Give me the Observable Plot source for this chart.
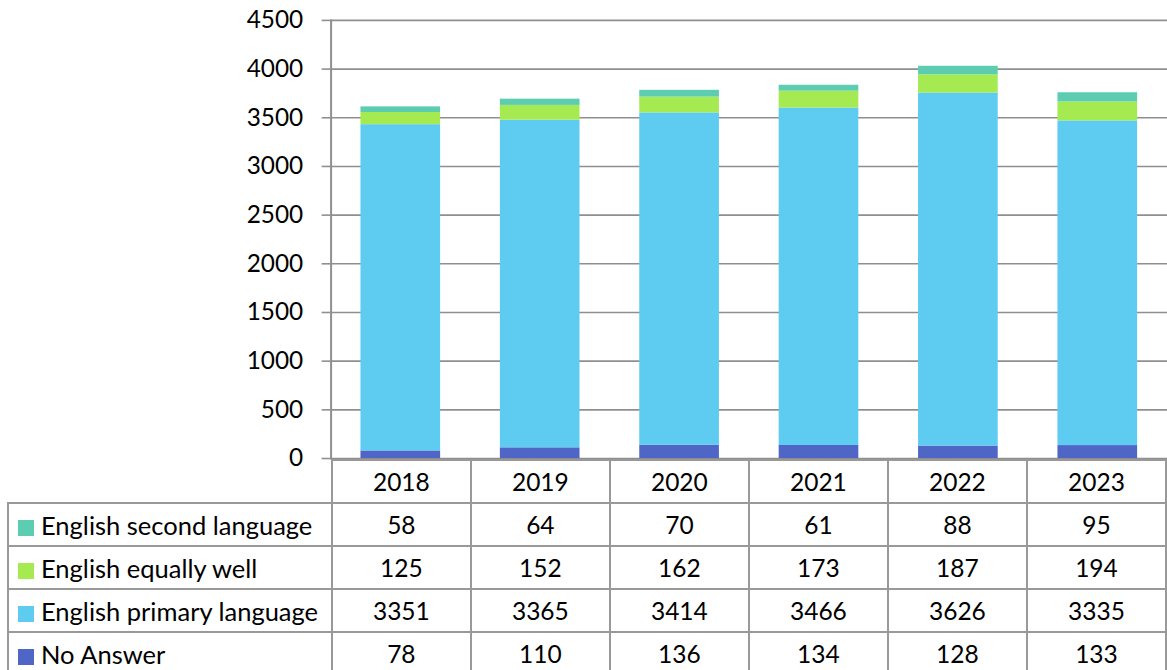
<!DOCTYPE html>
<html>
<head>
<meta charset="utf-8">
<script src="https://cdn.jsdelivr.net/npm/d3@7"></script>
<script src="https://cdn.jsdelivr.net/npm/@observablehq/plot@0.6"></script>
<style>
  html, body { margin: 0; padding: 0; background: #fff; overflow: hidden; width: 1167px; height: 670px; }
  #wrap { position: relative; width: 1167px; height: 670px; font-family: Lato, "Open Sans", sans-serif; }
  #chart { position: absolute; left: 0; top: 0; }
  #tbl { position: absolute; left: 7px; top: 459px; border-collapse: collapse; table-layout: fixed; font-size: 24.5px; color: #000; }
  #tbl td { border: 2px solid #999; height: 41px; padding: 0; text-align: center; vertical-align: middle; white-space: nowrap; overflow: hidden; }
  #tbl td.lab { text-align: left; padding-left: 9px; font-size: 25.5px; }
  #tbl td.blank { border-left: none; border-top: none; }
  .sw { display: inline-block; width: 16px; height: 16px; margin-right: 7px; vertical-align: -1px; }
</style>
</head>
<body>
<div id="wrap">
  <div id="chart"></div>
  <table id="tbl"></table>
</div>
<script>
const years = ["2018", "2019", "2020", "2021", "2022", "2023"];
const seriesNames = ["No Answer", "English primary language", "English equally well", "English second language"];
const seriesColors = ["#4f66c7", "#5ecbf1", "#a6ea52", "#5dcdb1"];
const noAnswer = [78, 110, 136, 134, 128, 133];
const primaryLang = [3351, 3365, 3414, 3466, 3626, 3335];
const equallyWell = [125, 152, 162, 173, 187, 194];
const secondLang = [58, 64, 70, 61, 88, 95];
const yTicks = [0, 500, 1000, 1500, 2000, 2500, 3000, 3500, 4000, 4500];

const seriesValues = [noAnswer, primaryLang, equallyWell, secondLang];
const data = [];
years.forEach((yr, i) => {
  seriesNames.forEach((s, j) => data.push({year: yr, series: s, value: seriesValues[j][i]}));
});

const chart = Plot.plot({
  width: 1172,
  height: 462,
  marginLeft: 332,
  marginRight: 0,
  marginTop: 20,
  marginBottom: 2,
  style: {fontFamily: "Lato, 'Open Sans', sans-serif", fontSize: "24.5px", color: "#000", background: "transparent", overflow: "visible"},
  x: {domain: years, paddingInner: 0.4286, paddingOuter: 0.2143, axis: null},
  y: {domain: [0, 4500], axis: null},
  color: {domain: seriesNames, range: seriesColors},
  marks: [
    Plot.ruleY(yTicks, {stroke: "#8f8f8f", strokeWidth: 1.6}),
    Plot.axisY({ticks: yTicks, label: null, tickSize: 9, tickPadding: 19, stroke: "#8f8f8f", strokeWidth: 1.6, tickFormat: d => String(d), fontSize: 24.5, fill: "#000"}),
    Plot.barY(data, {x: "year", y: "value", fill: "series", order: seriesNames, z: "series"}),
    Plot.frame({anchor: "left", stroke: "#8f8f8f", strokeWidth: 2})
  ]
});
document.getElementById("chart").appendChild(chart);

// Data table
const tbl = document.getElementById("tbl");
const colgroup = document.createElement("colgroup");
[324, ...years.map(() => 140)].forEach(w => {
  const c = document.createElement("col");
  c.style.width = w + "px";
  colgroup.appendChild(c);
});
tbl.appendChild(colgroup);
const head = document.createElement("tr");
const blank = document.createElement("td");
blank.className = "blank";
head.appendChild(blank);
years.forEach(y => { const td = document.createElement("td"); td.textContent = y; head.appendChild(td); });
tbl.appendChild(head);
[3, 2, 1, 0].forEach(j => {
  const tr = document.createElement("tr");
  const lab = document.createElement("td");
  lab.className = "lab";
  const sw = document.createElement("span");
  sw.className = "sw";
  sw.style.background = seriesColors[j];
  lab.appendChild(sw);
  lab.appendChild(document.createTextNode(seriesNames[j]));
  tr.appendChild(lab);
  seriesValues[j].forEach(v => { const td = document.createElement("td"); td.textContent = v; tr.appendChild(td); });
  tbl.appendChild(tr);
});
</script>
</body>
</html>
